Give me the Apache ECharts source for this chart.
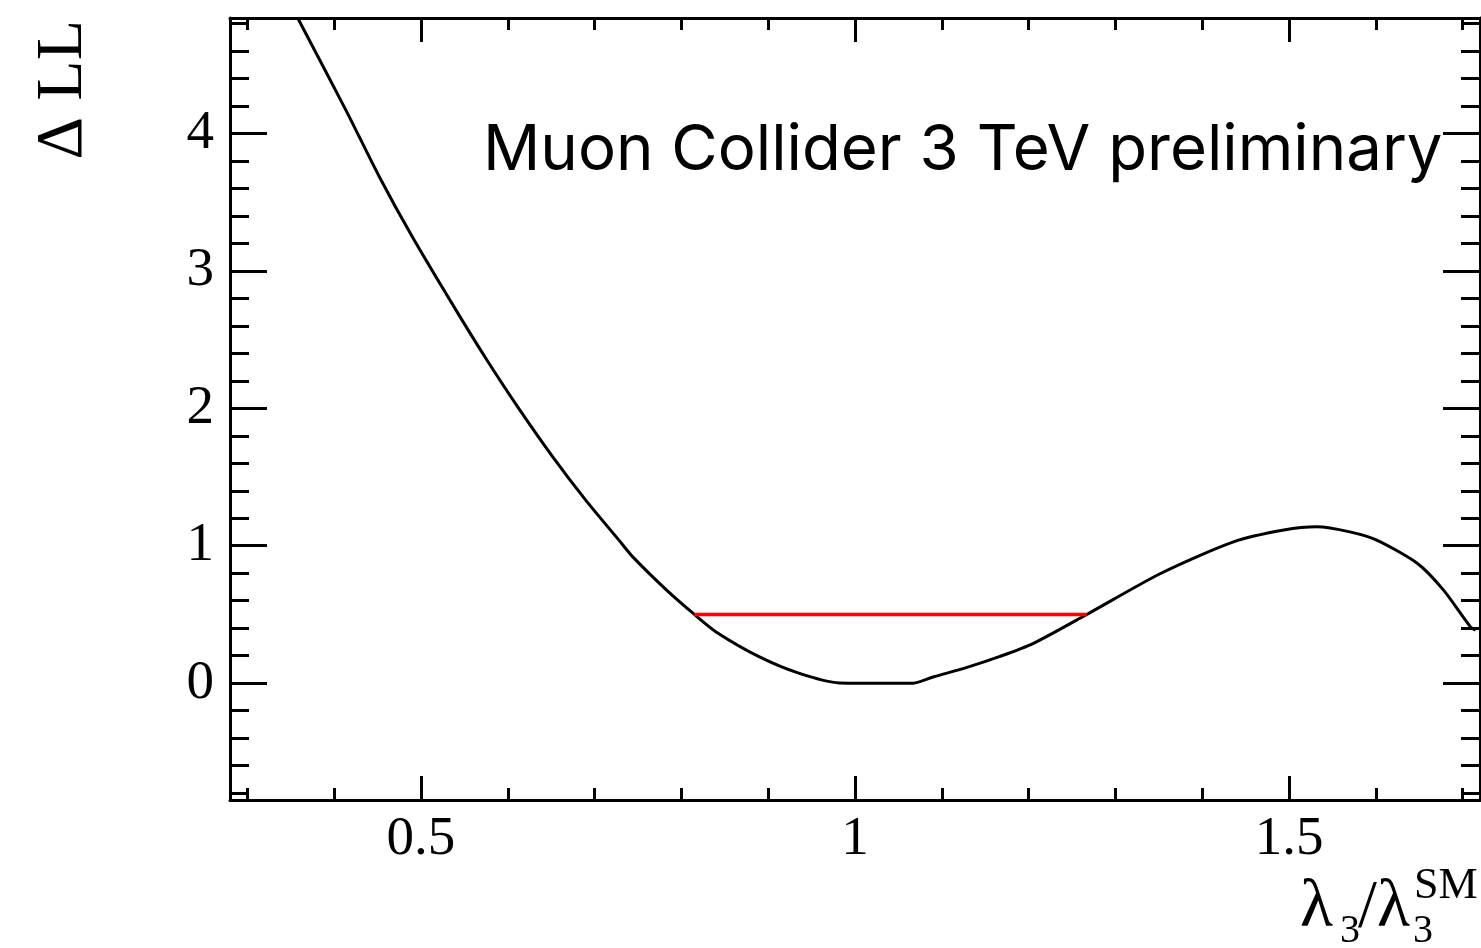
<!DOCTYPE html>
<html>
<head>
<meta charset="utf-8">
<script src="https://cdn.jsdelivr.net/npm/echarts@6/dist/echarts.min.js"></script>
<style>
  html, body { margin: 0; padding: 0; background: #fff; }
  #chart { width: 1481px; height: 948px; }
</style>
</head>
<body>
<div id="chart"></div>
<script>
// Likelihood scan: Delta LL versus lambda_3 / lambda_3^SM
const lambdaRatio = [0.358, 0.4135, 0.452, 0.490, 0.540, 0.575, 0.613, 0.652, 0.690, 0.728,
  0.744, 0.783, 0.815, 0.840, 0.890, 0.936, 0.982, 1.024, 1.067, 1.090, 1.129, 1.167,
  1.205, 1.267, 1.352, 1.436, 1.494, 1.532, 1.570, 1.601, 1.648, 1.678, 1.709, 1.715];
const deltaLL = [4.84, 4.170, 3.685, 3.248, 2.718, 2.361, 1.996, 1.645, 1.330, 1.041,
  0.919, 0.677, 0.500, 0.373, 0.191, 0.071, 0.002, 0.0, 0.0, 0.045, 0.115, 0.195,
  0.288, 0.500, 0.798, 1.028, 1.114, 1.138, 1.101, 1.041, 0.871, 0.677, 0.410, 0.386];

// 1-sigma interval at Delta LL = 0.5
const intervalX = [0.815, 1.267];
const intervalY = [0.5, 0.5];

// Axis ranges and tick positions
const xRange = [0.28, 1.72];
const yRange = [-0.85, 4.84];
const xMajorTicks = [0.5, 1, 1.5];
const xMinorTicks = [0.3, 0.4, 0.6, 0.7, 0.8, 0.9, 1.1, 1.2, 1.3, 1.4, 1.6, 1.7];
const yMajorTicks = [0, 1, 2, 3, 4];
const yMinorTicks = [-0.8, -0.6, -0.4, -0.2, 0.2, 0.4, 0.6, 0.8, 1.2, 1.4, 1.6, 1.8,
  2.2, 2.4, 2.6, 2.8, 3.2, 3.4, 3.6, 3.8, 4.2, 4.4, 4.6, 4.8];

const annotation = 'Muon Collider 3 TeV preliminary';

const curve = lambdaRatio.map((x, i) => [x, deltaLL[i]]);
const interval = intervalX.map((x, i) => [x, intervalY[i]]);

const serif = '"Liberation Serif", "DejaVu Serif", serif';
const frame = { color: '#000', width: 3 };

function tickAxis(kind, position, ticks, len, withLine, labels) {
  const range = kind === 'x' ? xRange : yRange;
  return {
    type: 'value',
    position: position,
    min: range[0],
    max: range[1],
    axisLine: { show: withLine, onZero: false, lineStyle: frame },
    axisTick: { show: true, inside: true, length: len, customValues: ticks, lineStyle: frame },
    axisLabel: labels ? {
      show: true,
      customValues: labels,
      fontFamily: serif,
      fontSize: 55,
      color: '#000',
      margin: kind === 'x' ? 40 : 16,
      verticalAlign: 'middle',
      formatter: v => String(v)
    } : { show: false },
    splitLine: { show: false },
    minorTick: { show: false }
  };
}

const chart = echarts.init(document.getElementById('chart'), null, { renderer: 'canvas' });
chart.setOption({
  backgroundColor: '#fff',
  animation: false,
  grid: { left: 230, right: 1, top: 18, bottom: 148, containLabel: false },
  xAxis: [
    tickAxis('x', 'bottom', xMajorTicks, 24, true, xMajorTicks),
    tickAxis('x', 'bottom', xMinorTicks, 12, false, null),
    tickAxis('x', 'top', xMajorTicks, 24, true, null),
    tickAxis('x', 'top', xMinorTicks, 12, false, null)
  ],
  yAxis: [
    tickAxis('y', 'left', yMajorTicks, 37, true, yMajorTicks),
    tickAxis('y', 'left', yMinorTicks, 19, false, null),
    tickAxis('y', 'right', yMajorTicks, 37, true, null),
    tickAxis('y', 'right', yMinorTicks, 19, false, null)
  ],
  series: [
    {
      type: 'line',
      xAxisIndex: 0,
      yAxisIndex: 0,
      data: curve,
      showSymbol: false,
      smooth: 0.25,
      lineStyle: { color: '#000', width: 3 },
      z: 3
    },
    {
      type: 'line',
      xAxisIndex: 0,
      yAxisIndex: 0,
      data: interval,
      showSymbol: false,
      lineStyle: { color: '#ff0000', width: 3.5 },
      z: 4
    }
  ],
  graphic: [
    {
      type: 'text',
      style: {
        text: annotation,
        x: 483, y: 151,
        fontFamily: 'Inter, "Noto Sans", sans-serif',
        fontSize: 63.5,
        fill: '#000',
        align: 'left',
        verticalAlign: 'middle'
      }
    },
    {
      type: 'text',
      x: 64, y: 20,
      rotation: Math.PI / 2,
      style: {
        text: 'Δ LL',
        fontFamily: serif,
        fontSize: 66,
        fill: '#000',
        align: 'right',
        verticalAlign: 'middle'
      }
    },
    { type: 'text', style: { text: 'λ', x: 1300, y: 908, fontFamily: serif, fontSize: 68, fill: '#000', verticalAlign: 'middle' } },
    { type: 'text', style: { text: '3', x: 1340, y: 931, fontFamily: serif, fontSize: 40, fill: '#000', verticalAlign: 'middle' } },
    { type: 'text', style: { text: '/λ', x: 1358, y: 908, fontFamily: serif, fontSize: 68, fill: '#000', verticalAlign: 'middle' } },
    { type: 'text', style: { text: '3', x: 1413, y: 931, fontFamily: serif, fontSize: 40, fill: '#000', verticalAlign: 'middle' } },
    { type: 'text', style: { text: 'SM', x: 1414, y: 886, fontFamily: serif, fontSize: 44, fill: '#000', verticalAlign: 'middle' } }
  ]
});
</script>
</body>
</html>
